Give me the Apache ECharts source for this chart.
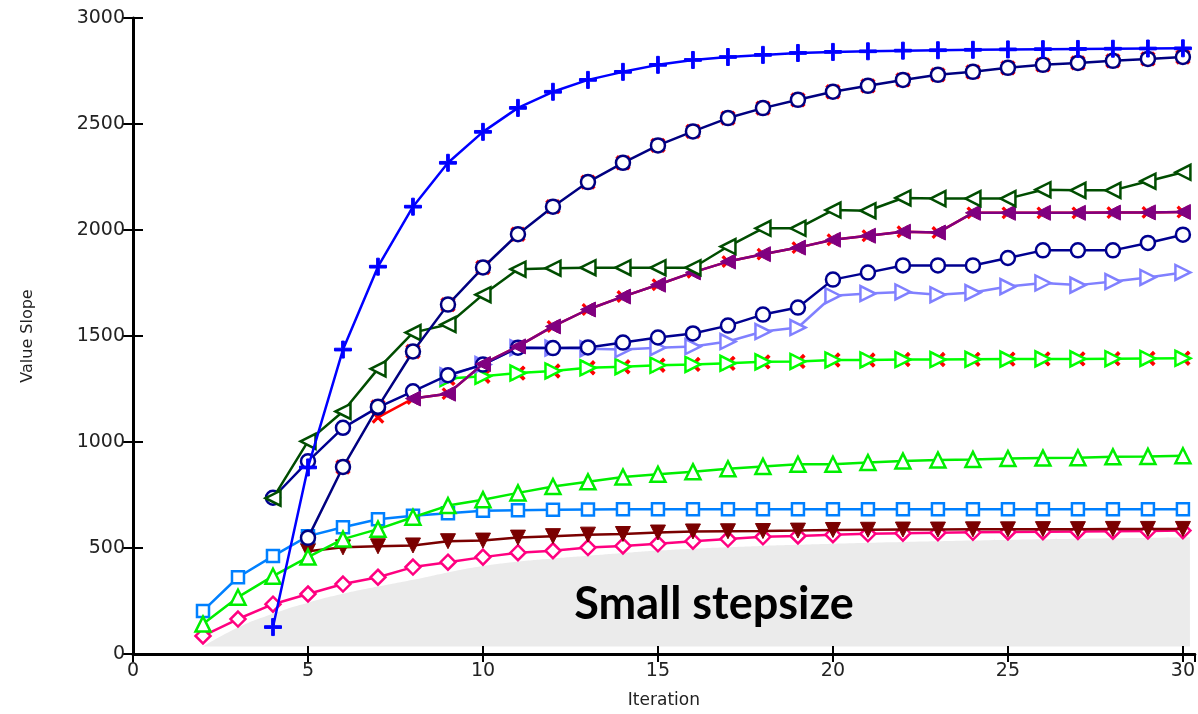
<!DOCTYPE html>
<html>
<head>
<meta charset="utf-8">
<script src="https://cdn.jsdelivr.net/npm/echarts@6/dist/echarts.min.js"></script>
<style>
  html, body { margin: 0; padding: 0; background: #fff; }
  #main { width: 1198px; height: 714px; }
</style>
</head>
<body>
<div id="main"></div>
<script>
// values, each series starts at its own iteration
const blueStart = 4;
const blueVals = [127, 880, 1436, 1827, 2110, 2317, 2463, 2576, 2652, 2708, 2746, 2779, 2802, 2816, 2826, 2835, 2840, 2843, 2846, 2848, 2850, 2852, 2853, 2854, 2855, 2856, 2857];

const navyAStart = 5;
const navyAVals = [548, 882, 1166, 1427, 1648, 1823, 1980, 2110, 2226, 2317, 2399, 2465, 2528, 2575, 2614, 2652, 2680, 2708, 2732, 2746, 2765, 2779, 2788, 2798, 2807, 2816];

const navyBStart = 4;
const navyBVals = [737, 909, 1067, 1163, 1239, 1315, 1365, 1445, 1443, 1446, 1469, 1493, 1512, 1549, 1601, 1634, 1766, 1799, 1833, 1833, 1833, 1868, 1904, 1904, 1904, 1939, 1978];

const darkGreenStart = 4;
const darkGreenVals = [735, 1003, 1144, 1345, 1516, 1554, 1695, 1815, 1820, 1822, 1822, 1822, 1822, 1922, 2008, 2008, 2094, 2091, 2151, 2148, 2148, 2148, 2190, 2187, 2187, 2230, 2272];

const purpleStart = 8;
const purpleVals = [1205, 1228, 1368, 1451, 1545, 1625, 1686, 1742, 1800, 1851, 1886, 1917, 1954, 1973, 1992, 1988, 2081, 2081, 2081, 2081, 2082, 2083, 2085];

const redStart = 7;
const redVals = [1116, 1205, 1228, 1368, 1451, 1545, 1625, 1686, 1742, 1800, 1851, 1886, 1917, 1954, 1973, 1992, 1988, 2081, 2081, 2081, 2081, 2082, 2083, 2085];

const lightPurpleStart = 9;
const lightPurpleVals = [1312, 1365, 1445, 1443, 1440, 1436, 1445, 1450, 1474, 1521, 1540, 1690, 1700, 1708, 1695, 1705, 1733, 1750, 1740, 1757, 1776, 1800];

const greenRStart = 9;
const greenRVals = [1300, 1310, 1325, 1335, 1350, 1355, 1362, 1366, 1371, 1378, 1380, 1387, 1387, 1389, 1389, 1390, 1391, 1392, 1392, 1393, 1394, 1395];

const lightBlueStart = 2;
const lightBlueVals = [203, 362, 462, 556, 598, 636, 652, 664, 676, 678, 680, 682, 683, 683, 683, 683, 683, 683, 683, 683, 683, 683, 683, 683, 683, 683, 683, 683, 683];

const greenTStart = 2;
const greenTVals = [141, 268, 367, 457, 542, 589, 645, 700, 728, 760, 790, 812, 835, 848, 860, 874, 885, 895, 895, 903, 910, 915, 918, 922, 924, 926, 930, 932, 935];

const darkRedStart = 5;
const darkRedVals = [485, 503, 508, 512, 532, 535, 549, 556, 563, 566, 573, 578, 579, 580, 582, 585, 586, 587, 587, 588, 588, 589, 589, 590, 590, 590];

const pinkStart = 2;
const pinkVals = [85, 165, 235, 283, 330, 362, 410, 433, 457, 478, 487, 502, 510, 520, 532, 542, 553, 557, 563, 567, 570, 572, 574, 576, 577, 578, 579, 580, 582];

// grey "small stepsize" region, its floor sits a little above the axis
const shadeX = [2, 3, 4, 5, 6, 7, 8, 9, 10, 11, 12, 13, 14, 15, 16, 17, 18, 19, 20, 22, 24, 26, 28, 30.2];
const shadeTop = [35, 125, 190, 242, 284, 318, 350, 385, 415, 435, 450, 463, 476, 488, 497, 504, 510, 515, 520, 528, 535, 541, 546, 551];
const shadeFloor = 35;

const xTicks = [0, 5, 10, 15, 20, 25, 30];
const yTicks = [0, 500, 1000, 1500, 2000, 2500, 3000];

const plusPath = 'path://M4.2,0H5.8V4.2H10V5.8H5.8V10H4.2V5.8H0V4.2H4.2Z';

function pairs(start, vals) {
  return vals.map((v, i) => [start + i, v]);
}

function line(name, start, vals, color, symbol, size, opts) {
  opts = opts || {};
  return {
    name: name,
    type: 'line',
    data: pairs(start, vals),
    symbol: symbol,
    symbolSize: size,
    symbolRotate: opts.rotate || 0,
    showAllSymbol: true,
    silent: true,
    z: opts.z || 2,
    lineStyle: { color: color, width: opts.width == null ? 2.5 : opts.width, opacity: opts.width === 0 ? 0 : 1 },
    itemStyle: opts.filled
      ? { color: color, borderColor: color, borderWidth: 1 }
      : { color: '#fff', borderColor: color, borderWidth: 2.5 }
  };
}

var myChart = echarts.init(document.getElementById('main'));

const axisFont = { color: '#222', fontSize: 19, fontFamily: 'DejaVu Sans' };

myChart.setOption({
  animation: false,
  backgroundColor: '#fff',
  grid: { left: 133, right: 3, top: 18, bottom: 59 },
  xAxis: [{
    type: 'value', min: 0, max: 30.34, interval: 5,
    name: 'Iteration', nameLocation: 'middle', nameGap: 38,
    nameTextStyle: { color: '#222', fontSize: 17, fontFamily: 'DejaVu Sans' },
    axisLine: { lineStyle: { color: '#000', width: 3 } },
    axisTick: { inside: true, length: 8, lineStyle: { color: '#000', width: 2 } },
    axisLabel: Object.assign({ margin: 8, showMaxLabel: false,
      formatter: v => xTicks.indexOf(v) >= 0 ? String(v) : '' }, axisFont),
    splitLine: { show: false }
  }, {
    type: 'value', position: 'top', min: 0, max: 30.34, interval: 5,
    axisLine: { lineStyle: { color: '#000', width: 2 } },
    axisTick: { inside: true, length: 8, lineStyle: { color: '#000', width: 2 } },
    axisLabel: { show: false },
    splitLine: { show: false }
  }],
  yAxis: [{
    type: 'value', min: 0, max: 3000, interval: 500,
    name: 'Value Slope', nameLocation: 'middle', nameGap: 97, nameRotate: 90,
    nameTextStyle: { color: '#222', fontSize: 16, fontFamily: 'DejaVu Sans' },
    axisLine: { show: true, lineStyle: { color: '#000', width: 3 } },
    axisTick: { show: true, inside: true, length: 10, lineStyle: { color: '#000', width: 2 } },
    axisLabel: Object.assign({ margin: 8,
      formatter: v => yTicks.indexOf(v) >= 0 ? String(v) : '' }, axisFont),
    splitLine: { show: false }
  }, {
    type: 'value', position: 'right', min: 0, max: 3000, interval: 500,
    axisLine: { show: true, lineStyle: { color: '#000', width: 2 } },
    axisTick: { show: true, inside: true, length: 10, lineStyle: { color: '#000', width: 2 } },
    axisLabel: { show: false },
    splitLine: { show: false }
  }],
  graphic: [{
    type: 'text', x: 714, y: 604, z: 100,
    style: { text: 'Small stepsize', font: 'bold 45px Lato', fill: '#000', align: 'center', verticalAlign: 'middle' }
  }],
  series: [
    {
      name: 'shade', type: 'line', silent: true, z: 0, smooth: 0.5,
      data: shadeX.map((x, i) => [x, shadeTop[i]]),
      symbol: 'none', lineStyle: { width: 0, opacity: 0 },
      areaStyle: { color: '#ebebeb', opacity: 1, origin: shadeFloor }
    },
    line('red under navy', navyAStart, navyAVals, '#ff0000', plusPath, 17, { rotate: 45, filled: true, width: 0, z: 2 }),
    line('red', redStart, redVals, '#ff0000', plusPath, 14, { rotate: 45, filled: true, z: 2 }),
    line('red under green', greenRStart, greenRVals, '#ff0000', plusPath, 17, { rotate: 45, filled: true, width: 0, z: 2 }),
    line('pink', pinkStart, pinkVals, '#ff0080', 'diamond', 15, { z: 3 }),
    line('dark red', darkRedStart, darkRedVals, '#7a0000', 'triangle', 15, { rotate: 180, filled: true, z: 4 }),
    line('light blue', lightBlueStart, lightBlueVals, '#0080ff', 'rect', 12, { z: 5 }),
    line('green up', greenTStart, greenTVals, '#00ee00', 'triangle', 15, { z: 6 }),
    line('green right', greenRStart, greenRVals, '#00ff00', 'triangle', 15, { rotate: -90, z: 7 }),
    line('light purple', lightPurpleStart, lightPurpleVals, '#8080ff', 'triangle', 15, { rotate: -90, z: 8 }),
    line('navy B', navyBStart, navyBVals, '#000090', 'circle', 14, { z: 9 }),
    line('purple', purpleStart, purpleVals, '#800080', 'triangle', 15, { rotate: 90, filled: true, z: 10 }),
    line('dark green', darkGreenStart, darkGreenVals, '#004d00', 'triangle', 15, { rotate: 90, z: 11 }),
    line('navy A', navyAStart, navyAVals, '#000080', 'circle', 14, { z: 12 }),
    line('blue', blueStart, blueVals, '#0000ff', plusPath, 17, { filled: true, z: 13 })
  ]
});
</script>
</body>
</html>
